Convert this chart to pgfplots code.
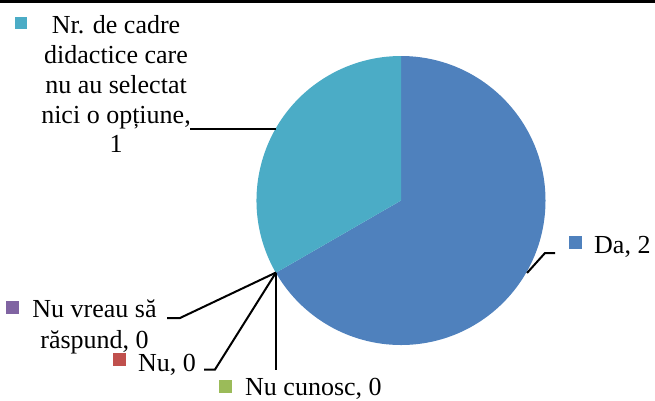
\documentclass[border=0pt]{standalone}
\usepackage{pgfplots}
\pgfplotsset{compat=1.18}
\usepackage{fontspec}
\setmainfont{Liberation Serif}
\newfontfamily\fa{Liberation Serif}
\newcommand\T[1]{{\fa\fontsize{26}{30}\selectfont #1}}
\definecolor{cDa}{HTML}{4F81BD}
\definecolor{cTeal}{HTML}{4BACC6}
\definecolor{cNu}{HTML}{C0504D}
\definecolor{cCun}{HTML}{9BBB59}
\definecolor{cVreau}{HTML}{8064A2}
% data
\def\vDa{2}
\def\vNr{1}
\def\vNu{0}
\def\vCun{0}
\def\vVreau{0}
\pgfmathsetmacro{\total}{\vDa+\vNr+\vNu+\vCun+\vVreau}
\pgfmathsetmacro{\aA}{90-360*\vDa/\total}
\pgfmathsetmacro{\aB}{\aA-360*\vNu/\total}
\pgfmathsetmacro{\aC}{\aB-360*\vCun/\total}
\pgfmathsetmacro{\aD}{\aC-360*\vVreau/\total}
\pgfmathsetmacro{\aE}{\aD-360*\vNr/\total}
\begin{document}
\begin{tikzpicture}
\begin{axis}[
  width=655pt, height=400pt, scale only axis,
  xmin=0, xmax=655, ymin=0, ymax=400, y dir=reverse,
  hide axis, clip=false,
]
\path (axis cs:0,0) rectangle (axis cs:655,400);
% top border
\fill[black] (axis cs:0,0) rectangle (axis cs:655,3);
% pie
\def\R{144.5pt}
\fill[cDa] (axis cs:401,200.5) -- ++(90:\R) arc[start angle=90, end angle=\aA, radius=\R] -- cycle;
\fill[cTeal] (axis cs:401,200.5) -- ++(\aD:\R) arc[start angle=\aD, end angle=\aE, radius=\R] -- cycle;
% leader lines
\draw[black, line width=2pt] (axis cs:276,128.5) -- (axis cs:190,128.5);
\draw[black, line width=2pt] (axis cs:527,273) -- (axis cs:545,253) -- (axis cs:555,253);
\draw[black, line width=2pt] (axis cs:276,272.5) -- (axis cs:180,318) -- (axis cs:167,318);
\draw[black, line width=2pt] (axis cs:276,272.5) -- (axis cs:215,369.5) -- (axis cs:204,369.5);
\draw[black, line width=2pt] (axis cs:276,272.5) -- (axis cs:276,370);
% labels
\begin{scope}[every node/.style={inner sep=0pt, anchor=base}]
\fill[cTeal] (axis cs:14.5,17) rectangle (axis cs:26.5,29);
\node at (axis cs:116,33) {\T{Nr. de cadre}};
\node at (axis cs:116,63) {\T{didactice care}};
\node at (axis cs:116,93) {\T{nu au selectat}};
\node at (axis cs:116,123) {\T{nici o opțiune,}};
\node at (axis cs:116,152) {\T{1}};
\fill[cDa] (axis cs:568.5,236) rectangle (axis cs:581.5,249);
\node[anchor=base west] at (axis cs:594,253) {\T{Da, 2}};
\fill[cVreau] (axis cs:5.5,301) rectangle (axis cs:18.5,314);
\node at (axis cs:94.5,317) {\T{Nu vreau să}};
\node at (axis cs:94.5,348) {\T{răspund, 0}};
\fill[cNu] (axis cs:113,353) rectangle (axis cs:126,366);
\node[anchor=base west] at (axis cs:138,371) {\T{Nu, 0}};
\fill[cCun] (axis cs:218.5,379.5) rectangle (axis cs:231.5,392.5);
\node[anchor=base west] at (axis cs:245,395) {\T{Nu cunosc, 0}};
\end{scope}
\end{axis}
\end{tikzpicture}
\end{document}
